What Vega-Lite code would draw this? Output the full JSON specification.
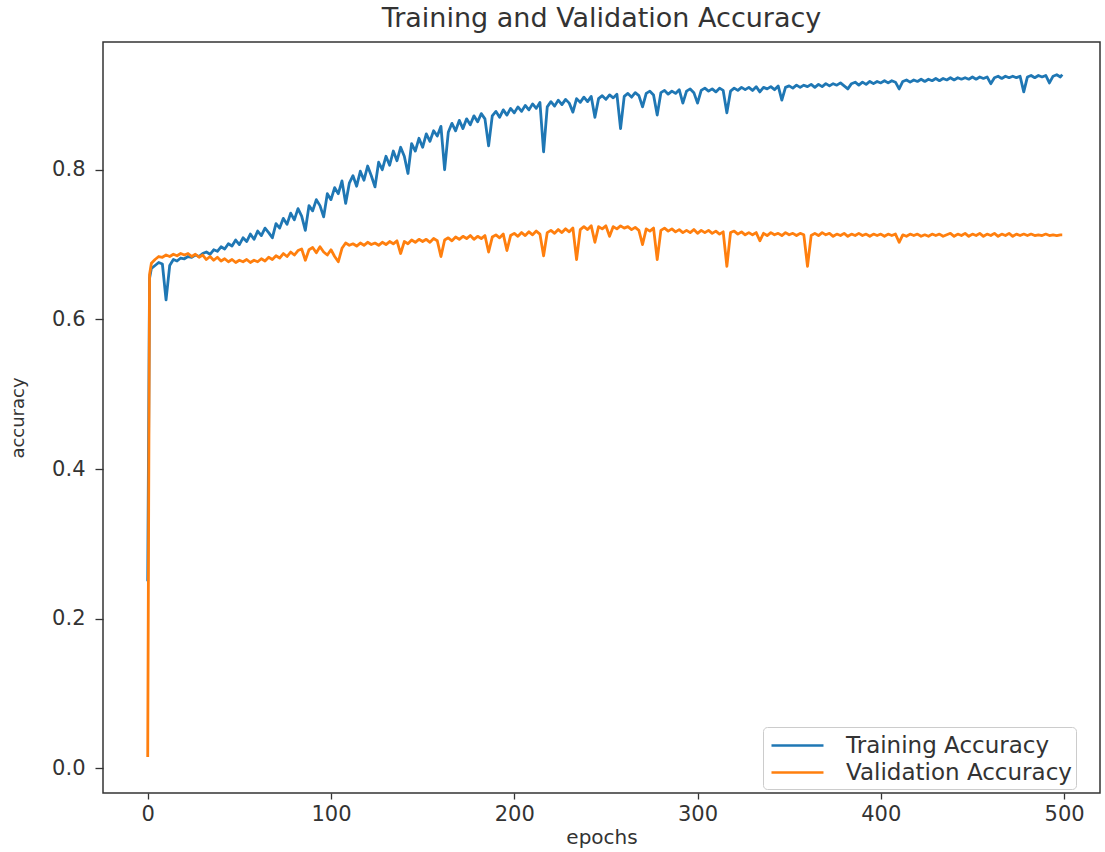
{
"$schema": "https://vega.github.io/schema/vega-lite/v6.json",
"width": 997, "height": 751,
"padding": {"left": 103, "top": 42, "right": 5, "bottom": 59},
"autosize": {"type": "none"},
"background": "white",
"title": {"text": "Training and Validation Accuracy", "fontSize": 27, "font": "DejaVu Sans", "fontWeight": "normal", "color": "#333", "offset": 9},
"config": {"view": {"stroke": "#333", "strokeWidth": 1.5}, "font": "DejaVu Sans"},
"data": {"values": [
{"e":0,"t":0.25,"v":0.015},{"e":1,"t":0.655,"v":0.66},{"e":2,"t":0.668,"v":0.675},{"e":4,"t":0.672,"v":0.68},{"e":6,"t":0.676,"v":0.684},{"e":8,"t":0.674,"v":0.683},{"e":10,"t":0.626,"v":0.686},{"e":12,"t":0.672,"v":0.684},{"e":14,"t":0.68,"v":0.687},{"e":16,"t":0.678,"v":0.685},{"e":18,"t":0.682,"v":0.688},{"e":20,"t":0.681,"v":0.686},{"e":22,"t":0.684,"v":0.688},{"e":24,"t":0.683,"v":0.684},{"e":26,"t":0.686,"v":0.687},{"e":28,"t":0.684,"v":0.683},{"e":30,"t":0.688,"v":0.686},{"e":32,"t":0.69,"v":0.68},{"e":34,"t":0.687,"v":0.684},{"e":36,"t":0.693,"v":0.679},{"e":38,"t":0.691,"v":0.683},{"e":40,"t":0.697,"v":0.678},{"e":42,"t":0.694,"v":0.681},{"e":44,"t":0.701,"v":0.677},{"e":46,"t":0.698,"v":0.68},{"e":48,"t":0.706,"v":0.676},{"e":50,"t":0.7,"v":0.679},{"e":52,"t":0.709,"v":0.677},{"e":54,"t":0.704,"v":0.68},{"e":56,"t":0.714,"v":0.676},{"e":58,"t":0.707,"v":0.679},{"e":60,"t":0.718,"v":0.677},{"e":62,"t":0.712,"v":0.681},{"e":64,"t":0.722,"v":0.678},{"e":66,"t":0.716,"v":0.683},{"e":68,"t":0.709,"v":0.68},{"e":70,"t":0.728,"v":0.685},{"e":72,"t":0.722,"v":0.682},{"e":74,"t":0.735,"v":0.688},{"e":76,"t":0.727,"v":0.684},{"e":78,"t":0.742,"v":0.69},{"e":80,"t":0.733,"v":0.686},{"e":82,"t":0.748,"v":0.692},{"e":84,"t":0.738,"v":0.694},{"e":86,"t":0.719,"v":0.679},{"e":88,"t":0.752,"v":0.693},{"e":90,"t":0.745,"v":0.696},{"e":92,"t":0.76,"v":0.689},{"e":94,"t":0.752,"v":0.697},{"e":96,"t":0.737,"v":0.69},{"e":98,"t":0.768,"v":0.686},{"e":100,"t":0.76,"v":0.693},{"e":102,"t":0.776,"v":0.684},{"e":104,"t":0.768,"v":0.677},{"e":106,"t":0.785,"v":0.695},{"e":108,"t":0.755,"v":0.702},{"e":110,"t":0.782,"v":0.699},{"e":112,"t":0.792,"v":0.701},{"e":114,"t":0.778,"v":0.698},{"e":116,"t":0.798,"v":0.702},{"e":118,"t":0.786,"v":0.699},{"e":120,"t":0.805,"v":0.703},{"e":122,"t":0.792,"v":0.7},{"e":124,"t":0.777,"v":0.702},{"e":126,"t":0.81,"v":0.699},{"e":128,"t":0.8,"v":0.703},{"e":130,"t":0.818,"v":0.7},{"e":132,"t":0.806,"v":0.704},{"e":134,"t":0.825,"v":0.701},{"e":136,"t":0.812,"v":0.705},{"e":138,"t":0.83,"v":0.688},{"e":140,"t":0.818,"v":0.704},{"e":142,"t":0.795,"v":0.701},{"e":144,"t":0.835,"v":0.706},{"e":146,"t":0.825,"v":0.703},{"e":148,"t":0.842,"v":0.707},{"e":150,"t":0.83,"v":0.704},{"e":152,"t":0.848,"v":0.707},{"e":154,"t":0.838,"v":0.703},{"e":156,"t":0.852,"v":0.708},{"e":158,"t":0.845,"v":0.705},{"e":160,"t":0.858,"v":0.684},{"e":162,"t":0.8,"v":0.706},{"e":164,"t":0.85,"v":0.709},{"e":166,"t":0.862,"v":0.705},{"e":168,"t":0.852,"v":0.71},{"e":170,"t":0.866,"v":0.707},{"e":172,"t":0.855,"v":0.711},{"e":174,"t":0.868,"v":0.708},{"e":176,"t":0.86,"v":0.712},{"e":178,"t":0.872,"v":0.707},{"e":180,"t":0.864,"v":0.711},{"e":182,"t":0.875,"v":0.708},{"e":184,"t":0.868,"v":0.712},{"e":186,"t":0.832,"v":0.69},{"e":188,"t":0.872,"v":0.71},{"e":190,"t":0.878,"v":0.713},{"e":192,"t":0.87,"v":0.709},{"e":194,"t":0.88,"v":0.714},{"e":196,"t":0.873,"v":0.692},{"e":198,"t":0.882,"v":0.712},{"e":200,"t":0.876,"v":0.715},{"e":202,"t":0.884,"v":0.711},{"e":204,"t":0.878,"v":0.716},{"e":206,"t":0.886,"v":0.712},{"e":208,"t":0.88,"v":0.717},{"e":210,"t":0.888,"v":0.713},{"e":212,"t":0.882,"v":0.718},{"e":214,"t":0.89,"v":0.714},{"e":216,"t":0.824,"v":0.685},{"e":218,"t":0.884,"v":0.716},{"e":220,"t":0.891,"v":0.719},{"e":222,"t":0.885,"v":0.715},{"e":224,"t":0.893,"v":0.72},{"e":226,"t":0.887,"v":0.716},{"e":228,"t":0.894,"v":0.721},{"e":230,"t":0.889,"v":0.717},{"e":232,"t":0.877,"v":0.722},{"e":234,"t":0.895,"v":0.68},{"e":236,"t":0.89,"v":0.72},{"e":238,"t":0.897,"v":0.724},{"e":240,"t":0.891,"v":0.72},{"e":242,"t":0.898,"v":0.725},{"e":244,"t":0.87,"v":0.703},{"e":246,"t":0.895,"v":0.724},{"e":248,"t":0.899,"v":0.721},{"e":250,"t":0.894,"v":0.725},{"e":252,"t":0.9,"v":0.711},{"e":254,"t":0.896,"v":0.724},{"e":256,"t":0.901,"v":0.721},{"e":258,"t":0.855,"v":0.725},{"e":260,"t":0.898,"v":0.722},{"e":262,"t":0.902,"v":0.724},{"e":264,"t":0.897,"v":0.72},{"e":266,"t":0.903,"v":0.723},{"e":268,"t":0.899,"v":0.719},{"e":270,"t":0.884,"v":0.7},{"e":272,"t":0.902,"v":0.721},{"e":274,"t":0.905,"v":0.718},{"e":276,"t":0.9,"v":0.722},{"e":278,"t":0.873,"v":0.68},{"e":280,"t":0.903,"v":0.719},{"e":282,"t":0.906,"v":0.722},{"e":284,"t":0.901,"v":0.718},{"e":286,"t":0.905,"v":0.721},{"e":288,"t":0.902,"v":0.717},{"e":290,"t":0.907,"v":0.72},{"e":292,"t":0.889,"v":0.716},{"e":294,"t":0.905,"v":0.719},{"e":296,"t":0.908,"v":0.716},{"e":298,"t":0.903,"v":0.72},{"e":300,"t":0.889,"v":0.715},{"e":302,"t":0.906,"v":0.719},{"e":304,"t":0.909,"v":0.716},{"e":306,"t":0.905,"v":0.719},{"e":308,"t":0.908,"v":0.715},{"e":310,"t":0.904,"v":0.718},{"e":312,"t":0.909,"v":0.714},{"e":314,"t":0.906,"v":0.717},{"e":316,"t":0.876,"v":0.671},{"e":318,"t":0.905,"v":0.716},{"e":320,"t":0.909,"v":0.718},{"e":322,"t":0.906,"v":0.714},{"e":324,"t":0.91,"v":0.717},{"e":326,"t":0.907,"v":0.713},{"e":328,"t":0.91,"v":0.716},{"e":330,"t":0.906,"v":0.713},{"e":332,"t":0.911,"v":0.716},{"e":334,"t":0.904,"v":0.705},{"e":336,"t":0.91,"v":0.715},{"e":338,"t":0.908,"v":0.712},{"e":340,"t":0.911,"v":0.716},{"e":342,"t":0.907,"v":0.713},{"e":344,"t":0.912,"v":0.715},{"e":346,"t":0.893,"v":0.712},{"e":348,"t":0.91,"v":0.716},{"e":350,"t":0.912,"v":0.713},{"e":352,"t":0.909,"v":0.715},{"e":354,"t":0.913,"v":0.712},{"e":356,"t":0.91,"v":0.715},{"e":358,"t":0.913,"v":0.713},{"e":360,"t":0.911,"v":0.671},{"e":362,"t":0.914,"v":0.712},{"e":364,"t":0.91,"v":0.715},{"e":366,"t":0.914,"v":0.712},{"e":368,"t":0.911,"v":0.716},{"e":370,"t":0.915,"v":0.713},{"e":372,"t":0.912,"v":0.715},{"e":374,"t":0.915,"v":0.711},{"e":376,"t":0.913,"v":0.714},{"e":378,"t":0.916,"v":0.712},{"e":380,"t":0.912,"v":0.715},{"e":382,"t":0.908,"v":0.711},{"e":384,"t":0.915,"v":0.714},{"e":386,"t":0.917,"v":0.712},{"e":388,"t":0.913,"v":0.715},{"e":390,"t":0.917,"v":0.712},{"e":392,"t":0.914,"v":0.714},{"e":394,"t":0.918,"v":0.711},{"e":396,"t":0.915,"v":0.714},{"e":398,"t":0.918,"v":0.712},{"e":400,"t":0.916,"v":0.714},{"e":402,"t":0.919,"v":0.711},{"e":404,"t":0.916,"v":0.714},{"e":406,"t":0.919,"v":0.712},{"e":408,"t":0.917,"v":0.714},{"e":410,"t":0.908,"v":0.703},{"e":412,"t":0.918,"v":0.713},{"e":414,"t":0.92,"v":0.711},{"e":416,"t":0.917,"v":0.714},{"e":418,"t":0.92,"v":0.712},{"e":420,"t":0.918,"v":0.714},{"e":422,"t":0.921,"v":0.711},{"e":424,"t":0.918,"v":0.713},{"e":426,"t":0.921,"v":0.711},{"e":428,"t":0.919,"v":0.714},{"e":430,"t":0.922,"v":0.712},{"e":432,"t":0.919,"v":0.714},{"e":434,"t":0.922,"v":0.711},{"e":436,"t":0.92,"v":0.713},{"e":438,"t":0.923,"v":0.715},{"e":440,"t":0.92,"v":0.711},{"e":442,"t":0.923,"v":0.714},{"e":444,"t":0.921,"v":0.712},{"e":446,"t":0.923,"v":0.715},{"e":448,"t":0.921,"v":0.711},{"e":450,"t":0.924,"v":0.714},{"e":452,"t":0.921,"v":0.712},{"e":454,"t":0.924,"v":0.715},{"e":456,"t":0.922,"v":0.711},{"e":458,"t":0.924,"v":0.714},{"e":460,"t":0.915,"v":0.712},{"e":462,"t":0.923,"v":0.715},{"e":464,"t":0.925,"v":0.711},{"e":466,"t":0.922,"v":0.714},{"e":468,"t":0.925,"v":0.712},{"e":470,"t":0.923,"v":0.715},{"e":472,"t":0.925,"v":0.711},{"e":474,"t":0.923,"v":0.714},{"e":476,"t":0.925,"v":0.712},{"e":478,"t":0.904,"v":0.714},{"e":480,"t":0.924,"v":0.712},{"e":482,"t":0.926,"v":0.714},{"e":484,"t":0.923,"v":0.712},{"e":486,"t":0.926,"v":0.713},{"e":488,"t":0.924,"v":0.712},{"e":490,"t":0.926,"v":0.714},{"e":492,"t":0.916,"v":0.712},{"e":494,"t":0.925,"v":0.713},{"e":496,"t":0.927,"v":0.712},{"e":498,"t":0.924,"v":0.713},{"e":499,"t":0.927,"v":0.713}
]},
"transform": [{"fold": ["t", "v"], "as": ["s", "acc"]}],
"mark": {"type": "line", "strokeWidth": 2.8, "strokeJoin": "round"},
"encoding": {
  "x": {"field": "e", "type": "quantitative",
        "scale": {"domain": [-24.4, 519.6], "nice": false, "zero": false},
        "axis": {"values": [0, 100, 200, 300, 400, 500], "title": "epochs", "grid": false, "domain": false,
                 "tickSize": 6, "tickColor": "#333", "tickWidth": 1.3, "labelFontSize": 21, "labelColor": "#333",
                 "labelPadding": 4, "titleFontSize": 20, "titleFontWeight": "normal", "titleColor": "#333", "titlePadding": 3}},
  "y": {"field": "acc", "type": "quantitative",
        "scale": {"domain": [-0.033, 0.9707], "nice": false, "zero": false},
        "axis": {"values": [0, 0.2, 0.4, 0.6, 0.8], "format": ".1f", "title": "accuracy", "grid": false, "domain": false,
                 "tickSize": 8, "tickColor": "#333", "tickWidth": 1.3, "labelFontSize": 21, "labelColor": "#333",
                 "labelPadding": 10, "titleFontSize": 18, "titleFontWeight": "normal", "titleColor": "#333", "titlePadding": 24}},
  "color": {"field": "s", "type": "nominal",
            "scale": {"domain": ["t", "v"], "range": ["#1f77b4", "#ff7f0e"]},
            "legend": {"title": null, "orient": "none", "legendX": 660, "legendY": 685,
                       "labelExpr": "datum.label == 't' ? 'Training Accuracy' : 'Validation Accuracy'",
                       "symbolType": "M-0.77,0H3.23", "symbolSize": 676, "symbolStrokeWidth": 2.5,
                       "labelFontSize": 23, "labelLimit": 400, "labelColor": "#333", "labelOffset": 50, "rowPadding": -1,
                       "padding": 4, "strokeColor": "#ccc", "fillColor": "white", "cornerRadius": 4}}
}
}
